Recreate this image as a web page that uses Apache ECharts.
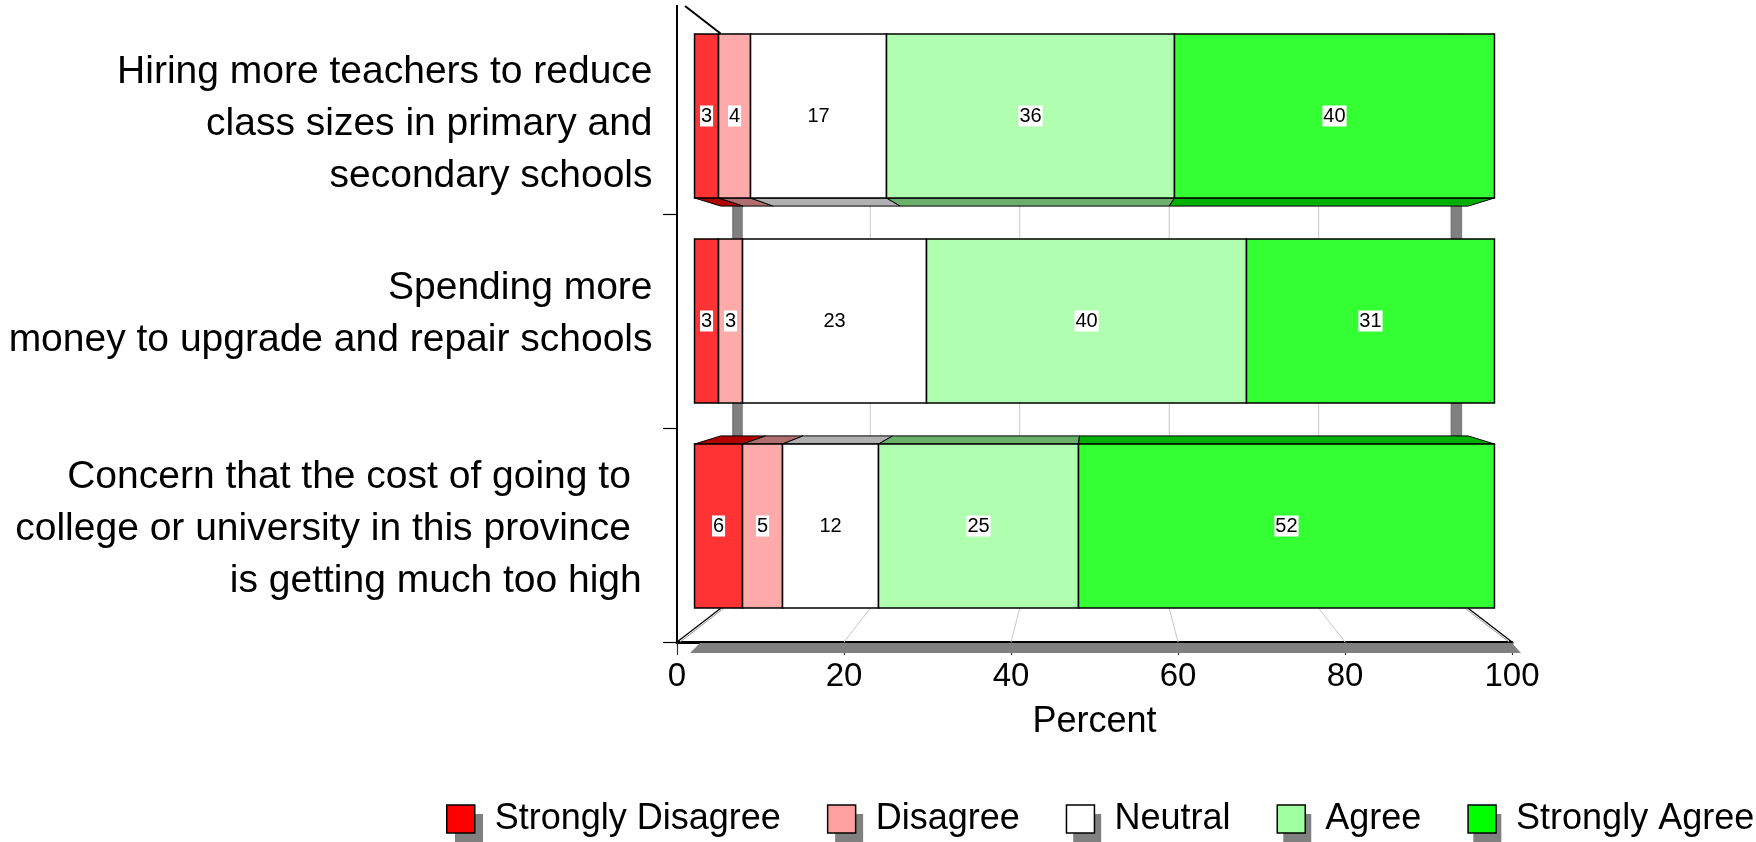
<!DOCTYPE html>
<html><head><meta charset="utf-8">
<script src="https://cdn.jsdelivr.net/npm/echarts@6/dist/echarts.min.js"></script>
<style>html,body{margin:0;padding:0;background:#fff}#c{width:1756px;height:842px}</style>
</head><body><div id="c"></div>
<script>
// ---------- data ----------
const categories = [
  'Hiring more teachers to reduce\nclass sizes in primary and\nsecondary schools',
  'Spending more\nmoney to upgrade and repair schools',
  'Concern that the cost of going to  \ncollege or university in this province  \nis getting much too high '
];
const responses = ['Strongly Disagree', 'Disagree', 'Neutral', 'Agree', 'Strongly Agree'];
const stronglyDisagree = [3, 3, 6];
const disagree = [4, 3, 5];
const neutral = [17, 23, 12];
const agree = [36, 40, 25];
const stronglyAgree = [40, 31, 52];
const xTicks = [0, 20, 40, 60, 80, 100];

// ---------- styles ----------
const baseColors = ['#FF0000', '#FFA0A0', '#FFFFFF', '#A0FFA0', '#00FF00'];
const frontColors = ['#FF3333', '#FFAAAA', '#FFFFFF', '#B0FFB0', '#33FF33'];
const sideColors = ['#B00000', '#B06E6E', '#B0B0B0', '#6AB06A', '#00B000'];
const FONT = '"Liberation Sans", Arial, sans-serif';
// small vertical nudges of the category label blocks: [top pad, bottom pad] per line
const labelNudge = [[16, 0], [0, 14], [6, 0]];

// axis (front) plane and the perspective depth ratios
const G0 = { left: 677, top: 0, width: 835, height: 642 };
const FRONT = 0.958, BACK = 0.895;
const VX = G0.left + G0.width / 2, VY = G0.top + G0.height / 2;
const G1 = {
  left: VX - FRONT * G0.width / 2, top: VY - FRONT * G0.height / 2,
  width: FRONT * G0.width, height: FRONT * G0.height
};

const seriesValues = [stronglyDisagree, disagree, neutral, agree, stronglyAgree];

function proj(x, y, s, cx, cy) { return [cx + s * (x - cx), cy + s * (y - cy)]; }

// decoration: back-wall grid lines, floor, posts, shadow
function renderDecor(params, api) {
  const cs = params.coordSys;
  const cx = cs.x + cs.width / 2, cy = cs.y + cs.height / 2;
  const x0 = cs.x, x1 = cs.x + cs.width, y0 = cs.y, y1 = cs.y + cs.height;
  const bTL = proj(x0, y0, BACK, cx, cy), bBR = proj(x1, y1, BACK, cx, cy);
  const ch = [];
  ch.push({ type: 'rect', shape: { x: x0 - 20, y: y0 - 2, width: 24, height: 7 }, style: { fill: '#fff' } });
  ch.push({ type: 'polygon', shape: { points: [[x0 + 23, y1 + 1], [x1, y1 + 1], [x1 + 9, y1 + 11], [x0 + 13, y1 + 11]] },
    style: { fill: '#808080' } });
  xTicks.slice(1, -1).forEach(v => {
    const fx = api.coord([v, 0])[0];
    const bt = proj(fx, y0, BACK, cx, cy), bb = proj(fx, y1, BACK, cx, cy);
    ch.push({ type: 'line', shape: { x1: bt[0], y1: bt[1], x2: bb[0], y2: bb[1] }, style: { stroke: '#C8C8C8', lineWidth: 1 } });
    ch.push({ type: 'line', shape: { x1: bb[0], y1: bb[1], x2: fx, y2: y1 }, style: { stroke: '#C8C8C8', lineWidth: 1 } });
  });
  [[bTL[0] + 12, bTL[0] + 22], [bBR[0] - 17, bBR[0] - 6]].forEach(p => {
    ch.push({ type: 'rect', shape: { x: p[0], y: bTL[1], width: p[1] - p[0], height: bBR[1] - bTL[1] },
      style: { fill: '#808080' } });
    ch.push({ type: 'line', shape: { x1: p[0], y1: bTL[1], x2: p[0], y2: bBR[1] }, style: { stroke: '#666', lineWidth: 1 } });
  });
  const bBL = proj(x0, y1, BACK, cx, cy), bBR2 = proj(x1, y1, BACK, cx, cy);
  [[x0, y1, bBL], [x1, y1, bBR2]].forEach(e => {
    ch.push({ type: 'line', shape: { x1: e[0], y1: e[1], x2: e[2][0], y2: e[2][1] }, style: { stroke: '#000', lineWidth: 1.3 } });
    ch.push({ type: 'line', shape: { x1: e[0] + (e[0] < cx ? 3 : -3), y1: e[1], x2: e[2][0] + (e[0] < cx ? 3 : -3), y2: e[2][1] },
      style: { stroke: '#999', lineWidth: 1 } });
  });
  ch.push({ type: 'line', shape: { x1: x0 + 8, y1: y0 + 6, x2: bTL[0], y2: bTL[1] }, style: { stroke: '#000', lineWidth: 2 } });
  return { type: 'group', children: ch };
}

function makeBarRenderer(k) {
  return function (params, api) {
    const cs = params.coordSys;
    const cx = cs.x + cs.width / 2, cy = cs.y + cs.height / 2;
    const r = BACK / FRONT;
    const cat = api.value(0), s = api.value(1), e = api.value(2), val = api.value(3);
    const p0 = api.coord([s, cat]), p1 = api.coord([e, cat]);
    const h = api.size([0, 1])[1] * 0.8;
    const top = p0[1] - h / 2, bot = p0[1] + h / 2;
    const xa = p0[0], xb = p1[0];
    const ch = [];
    if (bot < cy) {
      const ba = proj(xa, bot, r, cx, cy), bb = proj(xb, bot, r, cx, cy);
      ch.push({ type: 'polygon', shape: { points: [[xa, bot], [xb, bot], bb, ba] },
        style: { fill: sideColors[k], stroke: '#000', lineWidth: 1 } });
    }
    if (top > cy) {
      const ba = proj(xa, top, r, cx, cy), bb = proj(xb, top, r, cx, cy);
      ch.push({ type: 'polygon', shape: { points: [[xa, top], [xb, top], bb, ba] },
        style: { fill: sideColors[k], stroke: '#000', lineWidth: 1 } });
    }
    ch.push({ type: 'rect', shape: { x: xa, y: top, width: xb - xa, height: h },
      style: { fill: frontColors[k], stroke: '#000', lineWidth: 1.5 } });
    ch.push({ type: 'text', z2: 20, x: (xa + xb) / 2, y: p0[1],
      style: { text: String(val), fill: '#000', fontSize: 20, fontFamily: FONT,
        align: 'center', verticalAlign: 'middle', backgroundColor: '#fff', padding: [1, 1, 0, 1] } });
    return { type: 'group', children: ch };
  };
}

const series = [{
  type: 'custom', name: 'decor', xAxisIndex: 0, yAxisIndex: 0, silent: true, z: 1,
  data: [[0, 0]], renderItem: renderDecor
}];
responses.forEach((name, k) => {
  const data = categories.map((c, i) => {
    let start = 0;
    for (let j = 0; j < k; j++) start += seriesValues[j][i];
    return [i, start, start + seriesValues[k][i], seriesValues[k][i]];
  });
  series.push({
    type: 'custom', name, xAxisIndex: 1, yAxisIndex: 1, z: 3 + k, silent: true,
    itemStyle: { color: baseColors[k] },
    encode: { x: [1, 2], y: 0 },
    data, renderItem: makeBarRenderer(k)
  });
});

// rich styles for category labels: every line of a label gets the same nudge
const lblBase = { fontSize: 39, lineHeight: 52, fontFamily: FONT, color: '#000', align: 'right' };
const rich = {};
labelNudge.forEach((p, i) => {
  rich['s' + i] = Object.assign({}, lblBase, { padding: [p[0], 0, p[1], 0] });
});
function catFormatter(value, idx) {
  return value.split('\n').map(l => '{s' + idx + '|' + l + '}').join('\n');
}

const legendCommon = {
  data: responses, icon: 'rect', orient: 'horizontal', padding: 0, width: 1320,
  itemWidth: 28, itemHeight: 28, itemGap: 46, selectedMode: false
};

const chart = echarts.init(document.getElementById('c'));
chart.setOption({
  animation: false,
  backgroundColor: '#fff',
  grid: [
    Object.assign({ outerBoundsMode: 'none', containLabel: false }, G0),
    Object.assign({ outerBoundsMode: 'none', containLabel: false }, G1)
  ],
  xAxis: [{
    gridIndex: 0, type: 'value', min: xTicks[0], max: xTicks[xTicks.length - 1], interval: xTicks[1] - xTicks[0],
    axisLine: { show: true, onZero: false, lineStyle: { color: '#000', width: 3 } },
    axisTick: { show: true, length: 13, lineStyle: { color: '#333', width: 1.2 } },
    axisLabel: { fontSize: 33, fontFamily: FONT, color: '#000', margin: 18 },
    splitLine: { show: false },
    name: 'Percent', nameLocation: 'middle', nameGap: 62,
    nameTextStyle: { fontSize: 36, fontFamily: FONT, color: '#000' }
  }, {
    gridIndex: 1, type: 'value', min: 0, max: 100, show: false, splitLine: { show: false }
  }],
  yAxis: [{
    gridIndex: 0, type: 'category', data: categories, inverse: true,
    axisLine: { show: true, lineStyle: { color: '#000', width: 2 } },
    axisTick: { show: true, length: 14, lineStyle: { color: '#000', width: 1.2 } },
    axisLabel: { show: false }, splitLine: { show: false }
  }, {
    gridIndex: 1, type: 'category', data: categories, inverse: true,
    axisLine: { show: false }, axisTick: { show: false }, splitLine: { show: false },
    axisLabel: { fontSize: 39, lineHeight: 52, fontFamily: FONT, color: '#000', margin: 42, align: 'right',
      formatter: catFormatter, rich }
  }],
  legend: [
    Object.assign({}, legendCommon, {
      left: 455, top: 810, z: 3,
      itemStyle: { color: '#808080', borderWidth: 0 },
      textStyle: { fontSize: 36, fontFamily: FONT, color: 'rgba(0,0,0,0)', padding: [0, 0, 0, 15] }
    }),
    Object.assign({}, legendCommon, {
      left: 446, top: 801, z: 4,
      itemStyle: { borderColor: '#000', borderWidth: 1.5 },
      textStyle: { fontSize: 36, fontFamily: FONT, color: '#000', padding: [0, 0, 0, 15] }
    })
  ],
  series
});
</script>
</body></html>
